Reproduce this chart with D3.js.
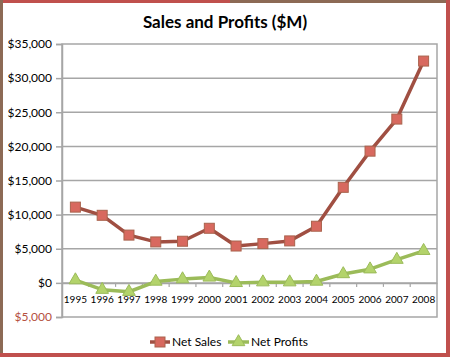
<!DOCTYPE html>
<html><head><meta charset="utf-8">
<script src="https://cdn.jsdelivr.net/npm/d3@7"></script>
<style>body{margin:0;background:#fff;}svg{display:block;font-family:Lato,"Open Sans",sans-serif;}</style>
</head><body>
<script>
const years = ["1995","1996","1997","1998","1999","2000","2001","2002","2003","2004","2005","2006","2007","2008"];
const netSales = [11100, 9900, 7000, 6000, 6100, 8000, 5400, 5750, 6150, 8300, 14000, 19300, 24000, 32500];
const netProfits = [400, -1000, -1300, 200, 550, 800, 0, 100, 100, 200, 1300, 2000, 3400, 4700];
const yTicks = [-5000, 0, 5000, 10000, 15000, 20000, 25000, 30000, 35000];
const seriesNames = ["Net Sales", "Net Profits"];

const W = 450, H = 357;
const svg = d3.select("body").append("svg").attr("width", W).attr("height", H);
svg.append("rect").attr("width", W).attr("height", H).attr("fill", "#fff");

const L = 62, R = 437, T = 44, B = 317;
const x = d3.scaleBand().domain(years).range([L, R]);
const y = d3.scaleLinear().domain([-5000, 35000]).range([B, T]);

// gridlines
svg.append("g").selectAll("line").data(yTicks.filter(d => d > -5000 && d < 35000)).join("line")
  .attr("x1", L).attr("x2", R).attr("y1", d => y(d)).attr("y2", d => y(d))
  .attr("stroke", "#a6a6a6").attr("stroke-width", 1.5);
// plot box
svg.append("rect").attr("x", L).attr("y", T).attr("width", R - L).attr("height", B - T)
  .attr("fill", "none").attr("stroke", "#a6a6a6").attr("stroke-width", 1.5);

// y axis
const fmt = d => (d < 0 ? "$" + d3.format(",")(-d) : "$" + d3.format(",")(d));
const yAxis = d3.axisLeft(y).tickValues(yTicks).tickSize(6).tickPadding(4).tickFormat(fmt);
const gy = svg.append("g").attr("transform", `translate(${L},0)`).call(yAxis);
gy.select(".domain").attr("stroke", "#a6a6a6").attr("stroke-width", 1.5);
gy.selectAll(".tick line").attr("stroke", "#a6a6a6").attr("stroke-width", 1.5);
gy.selectAll(".tick text").attr("font-size", 12).attr("font-family", "Lato, sans-serif")
  .attr("fill", d => d < 0 ? "#b5503f" : "#000");

// x axis at zero
const xAxis = d3.axisBottom(x).tickSize(0).tickPadding(13);
const gx = svg.append("g").attr("transform", `translate(0,${y(0)})`).call(xAxis);
gx.select(".domain").attr("stroke", "#a6a6a6").attr("stroke-width", 1.5);
gx.selectAll(".tick text").attr("font-size", 10).attr("font-family", "Lato, sans-serif").attr("fill", "#000");
// boundary ticks
svg.append("g").selectAll("line").data(years.slice(1)).join("line")
  .attr("x1", d => x(d)).attr("x2", d => x(d)).attr("y1", y(0)).attr("y2", y(0) + 4)
  .attr("stroke", "#a6a6a6").attr("stroke-width", 1.2);

const cx = d => x(d) + x.bandwidth() / 2;
const line = d3.line().x((d, i) => cx(years[i])).y(d => y(d));

// Net Sales
svg.append("path").datum(netSales).attr("d", line).attr("fill", "none")
  .attr("stroke", "#a04f42").attr("stroke-width", 3.5).attr("stroke-linejoin", "round");
svg.append("g").selectAll("rect").data(netSales).join("rect")
  .attr("x", (d, i) => cx(years[i]) - 5).attr("y", d => y(d) - 5)
  .attr("width", 10).attr("height", 10)
  .attr("fill", "#d8695f").attr("stroke", "#a9634d").attr("stroke-width", 1);

// Net Profits
svg.append("path").datum(netProfits).attr("d", line).attr("fill", "none")
  .attr("stroke", "#9bbb59").attr("stroke-width", 3.5).attr("stroke-linejoin", "round");
const tri = d3.symbol().type(d3.symbolTriangle).size(70);
svg.append("g").selectAll("path").data(netProfits).join("path")
  .attr("d", tri).attr("transform", (d, i) => `translate(${cx(years[i])},${y(d)})`)
  .attr("fill", "#b3d36b").attr("stroke", "#9bbb59").attr("stroke-width", 1);

// title
svg.append("text").attr("x", 225).attr("y", 28).attr("text-anchor", "middle")
  .attr("font-size", 17).attr("font-weight", "bold").attr("font-family", "Lato, sans-serif")
  .text("Sales and Profits ($M)");

// legend
const ly = 342;
const lg = svg.append("g");
lg.append("line").attr("x1", 150).attr("x2", 170).attr("y1", ly).attr("y2", ly)
  .attr("stroke", "#a04f42").attr("stroke-width", 3.5);
lg.append("rect").attr("x", 155).attr("y", ly - 5).attr("width", 10).attr("height", 10)
  .attr("fill", "#d8695f").attr("stroke", "#a9634d");
lg.append("text").attr("x", 172).attr("y", ly + 4).attr("font-size", 12).text(seriesNames[0]);
lg.append("line").attr("x1", 228).attr("x2", 249).attr("y1", ly).attr("y2", ly)
  .attr("stroke", "#9bbb59").attr("stroke-width", 3.5);
lg.append("path").attr("d", tri).attr("transform", `translate(238.5,${ly})`)
  .attr("fill", "#b3d36b").attr("stroke", "#9bbb59");
lg.append("text").attr("x", 251).attr("y", ly + 4).attr("font-size", 12).text(seriesNames[1]);

// outer frame
svg.append("rect").attr("x", 0).attr("y", 0).attr("width", 230).attr("height", 3).attr("fill", "#c0504d");
svg.append("rect").attr("x", 230).attr("y", 0).attr("width", 220).attr("height", 3).attr("fill", "#8c6a55");
svg.append("rect").attr("x", 0).attr("y", 0).attr("width", 3).attr("height", H).attr("fill", "#8c6a55");
svg.append("rect").attr("x", 446).attr("y", 0).attr("width", 4).attr("height", H).attr("fill", "#c0504d");
svg.append("rect").attr("x", 0).attr("y", 353).attr("width", W).attr("height", 4).attr("fill", "#c0504d");
</script>
</body></html>
